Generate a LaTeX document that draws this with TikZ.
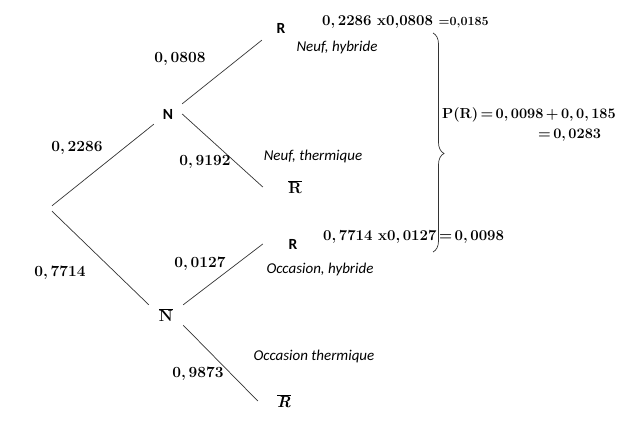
\documentclass[tikz,border=0pt]{standalone}
\usepackage{fontspec}
\usepackage{xcolor}
\usepackage{tikz}
\usetikzlibrary{decorations.pathreplacing}
\newfontfamily\calibri{Carlito}
\colorlet{strokeColor}{black!80}
\colorlet{textColor}{black}
\tikzset{
  eventNode/.style={color=textColor, inner sep=0pt, font=\calibri\fontsize{15.5}{18}\selectfont\bfseries},
  barNode/.style={color=textColor, inner sep=0pt, font=\fontsize{16}{19}\selectfont\bfseries},
  probLabel/.style={color=textColor, inner sep=0pt, font=\fontsize{15.5}{18}\selectfont\bfseries},
  caseLabel/.style={color=textColor, inner sep=0pt, font=\calibri\fontsize{15}{17}\selectfont\itshape},
  calcLabel/.style={color=textColor, inner sep=0pt, anchor=west, font=\fontsize{15}{18}\selectfont\bfseries},
  branch/.style={color=strokeColor, line width=0.7pt},
}

\begin{document}
\begin{tikzpicture}[x=1pt, y=-1pt]
    \useasboundingbox (0, 0) rectangle (623, 422);
    % tree
    \node[inner sep=0pt, minimum height=5pt] (O) at (52, 208.5) {};
    \node[eventNode, minimum width=28pt, minimum height=20pt] (N) at (168, 114) {N};
    \node[barNode, minimum width=34pt, minimum height=20pt] (Nb) at (166, 315) {$\overline{\hbox{\bfseries N}}$};
    \node[eventNode, minimum width=38pt, minimum height=24pt] (R1) at (281, 28) {R};
    \node[barNode, minimum width=64pt] (R1b) at (295, 187) {$\overline{\hbox{\bfseries R}}$};
    \node[eventNode, minimum width=60pt] (R2) at (293, 244) {R};
    \node[barNode, minimum width=52pt] (R2b) at (284, 401) {$\overline{\hbox{\bfseries\itshape R}}$};
    \draw[branch] (O.north) -- (N.south west);
    \draw[branch] (O.south) -- (Nb.north west);
    \draw[branch] (N.north east) -- (R1.south west);
    \draw[branch] (N.east) -- (R1b.west);
    \draw[branch] (Nb.north east) -- (R2.west);
    \draw[branch] (Nb.south east) -- (R2b.west);
    % probabilities
    \node[probLabel] (pN) at (77, 148) {0,\,2286};
    \node[probLabel] (pNb) at (60, 273) {0,\,7714};
    \node[probLabel] (pR1) at (180, 59) {0,\,0808};
    \node[probLabel] (pR1b) at (205, 162) {0,\,9192};
    \node[probLabel] (pR2) at (200, 264) {0,\,0127};
    \node[probLabel] (pR2b) at (198, 374) {0,\,9873};
    % cases
    \node[caseLabel] (cNH) at (337, 48) {Neuf, hybride};
    \node[caseLabel] (cNT) at (313, 157) {Neuf, thermique};
    \node[caseLabel] (cOH) at (320, 269) {Occasion, hybride};
    \node[caseLabel] (cOT) at (314, 356) {Occasion thermique};
    % calculation
    \node[calcLabel] (prodTop) at (322, 22) {0,\,2286 x0,0808 {\fontsize{12.5}{14}\selectfont =0,0185}};
    \node[calcLabel] (prodBot) at (323, 237) {0,\,7714 x0,\,0127\,=\,0,\,0098};
    \node[calcLabel, font=\fontsize{14.5}{17}\selectfont\bfseries] (total) at (442, 115) {P(R)\,=\,0,\,0098\,+\,0,\,0,\,185};
    \node[calcLabel, font=\fontsize{14.5}{17}\selectfont\bfseries] (totalRes) at (538, 135) {=\,0,\,0283};
    \draw[strokeColor, line width=0.7pt, decorate, decoration={brace, amplitude=11pt, aspect=0.55}]
      (433, 33) -- (433, 252);
  \end{tikzpicture}
\end{document}
